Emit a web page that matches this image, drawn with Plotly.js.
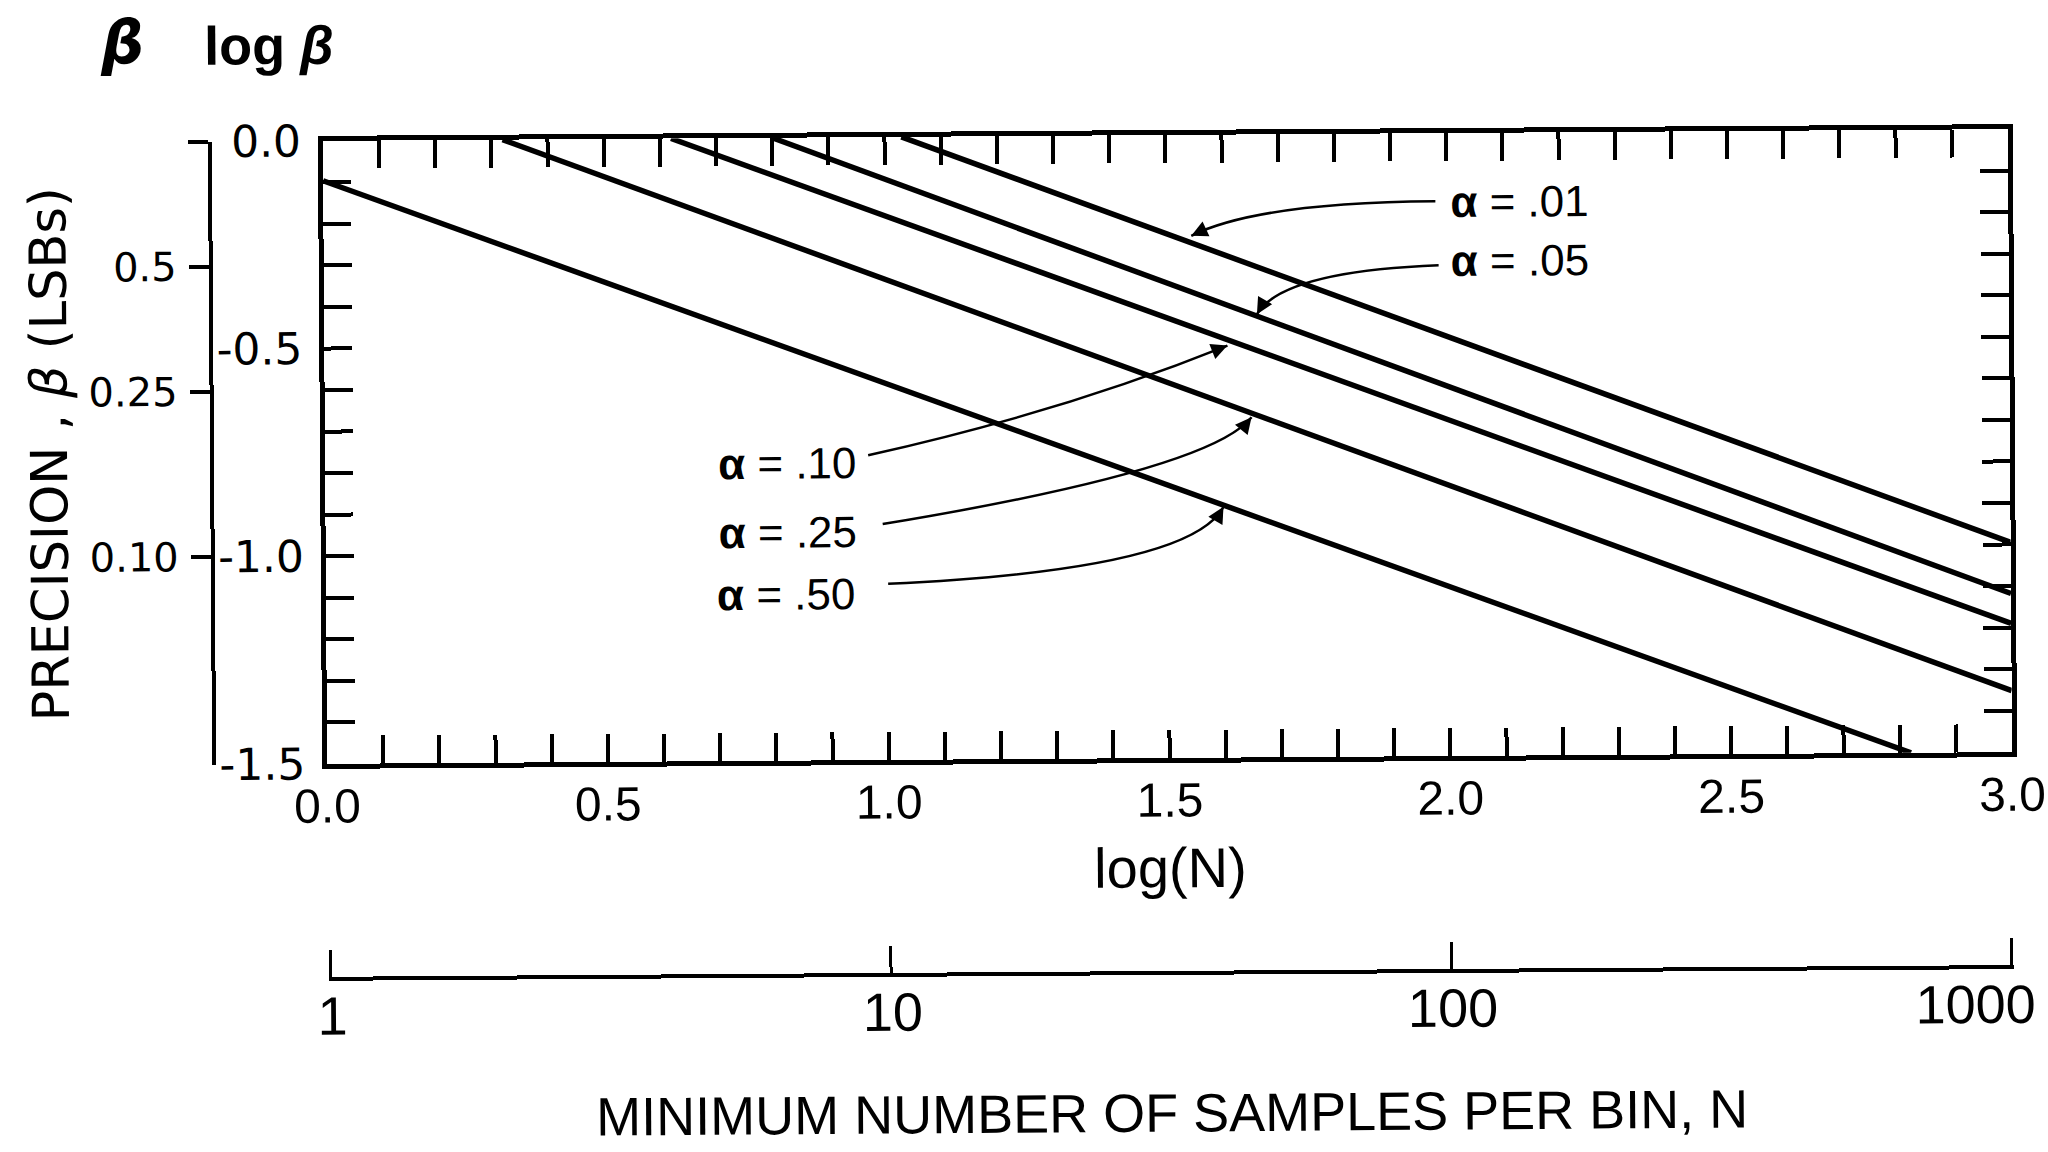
<!DOCTYPE html>
<html>
<head>
<meta charset="utf-8">
<script src="https://cdn.plot.ly/plotly-3.0.1.min.js"></script>
<style>
html,body{margin:0;padding:0;background:#fff;overflow:hidden;}
/* the scanned original sits very slightly rotated on the page */
#chart{width:2048px;height:1152px;transform:rotate(-0.4deg);transform-origin:1167px 450px;}
</style>
</head>
<body>
<div id="chart"></div>
<script>
// ---- data: log(N) (x) vs log(beta) (y) ----
const seriesNames = ['α = .01', 'α = .05', 'α = .10', 'α = .25', 'α = .50'];
const logN_a01 = [1.03, 3.0];
const logB_a01 = [0.0, -0.995];
const logN_a05 = [0.80, 3.0];
const logB_a05 = [0.0, -1.118];
const logN_a10 = [0.62, 3.0];
const logB_a10 = [0.0, -1.19];
const logN_a25 = [0.32, 3.0];
const logB_a25 = [0.0, -1.352];
const logN_a50 = [0.0, 2.82];
const logB_a50 = [-0.096, -1.5];

// ---- tick labels ----
const xTickVals = [0, 0.5, 1, 1.5, 2, 2.5, 3];
const xTickText = ['0.0', '0.5', '1.0', '1.5', '2.0', '2.5', '3.0'];
const yTickVals = [0, -0.5, -1, -1.5];
const yTickText = ['0.0', '-0.5', '-1.0', '-1.5'];
const betaTickVals = [1, 0.5, 0.25, 0.10, 0.0316];
const betaTickText = ['', '0.5', '0.25', '0.10', ''];
const nTickVals = [1, 10, 100, 1000];
const nTickText = ['1', '10', '100', '1000'];
// the original pulls only its last N label inwards; the others are re-centred on their ticks
const nLabelPad = '\u2007\u2007\u00a0';
const nTickTextPlaced = nTickText.map((t, i) => i < nTickText.length - 1 ? nLabelPad + t : t);

// ---- label placement (log N, log beta) and curved leaders ----
const labelPos = [[2.003, -0.164], [2.003, -0.306], [0.696, -0.783], [0.696, -0.951], [0.693, -1.098]];
const leaderStart = [[1.980, -0.164], [1.985, -0.318], [0.967, -0.766], [0.992, -0.932], [1.001, -1.076]];
const leaderCtrl  = [[1.665, -0.164], [1.706, -0.330], [1.309, -0.667], [1.576, -0.807], [1.540, -1.047]];
const leaderTip   = [[1.545, -0.243], [1.661, -0.433], [1.608, -0.508], [1.650, -0.681], [1.599, -0.896]];
const headDir     = [[13, -6], [7, -12], [-13, 5], [-9, 11], [-7, 12]];

const xs = [logN_a01, logN_a05, logN_a10, logN_a25, logN_a50];
const ys = [logB_a01, logB_a05, logB_a10, logB_a25, logB_a50];

const traces = seriesNames.map((n, i) => ({
  type: 'scatter', mode: 'lines', name: n,
  x: xs[i], y: ys[i], xaxis: 'x', yaxis: 'y',
  line: {color: '#000', width: 5.5}, hoverinfo: 'skip', showlegend: false
}));
// carrier traces so the secondary scales are drawn
traces.push({type: 'scatter', mode: 'markers', x: [0, 3], y: [1, 0.0316], xaxis: 'x', yaxis: 'y2',
  marker: {opacity: 0}, hoverinfo: 'skip', showlegend: false});
traces.push({type: 'scatter', mode: 'markers', x: [1, 1000], y: [-1.5, -1.5], xaxis: 'x2', yaxis: 'y',
  marker: {opacity: 0}, hoverinfo: 'skip', showlegend: false});

const shapes = leaderStart.map((p, i) => ({
  type: 'path', xref: 'x', yref: 'y',
  path: 'M ' + p[0] + ',' + p[1] + ' Q ' + leaderCtrl[i][0] + ',' + leaderCtrl[i][1] + ' ' + leaderTip[i][0] + ',' + leaderTip[i][1],
  line: {color: '#000', width: 2.5}
}));

const annotations = [];
seriesNames.forEach((n, i) => {
  annotations.push({
    xref: 'x', yref: 'y', x: labelPos[i][0], y: labelPos[i][1],
    text: '<b>α</b> = .' + n.split('.')[1], showarrow: false,
    xanchor: 'left', yanchor: 'middle',
    font: {family: 'Liberation Sans, sans-serif', size: 44, color: '#000'}
  });
  annotations.push({
    xref: 'x', yref: 'y', x: leaderTip[i][0], y: leaderTip[i][1],
    ax: headDir[i][0], ay: headDir[i][1], text: '', showarrow: true,
    arrowhead: 2, arrowsize: 1.3, arrowwidth: 2.5, arrowcolor: '#000', standoff: 0
  });
});
annotations.push({xref: 'paper', yref: 'paper', x: 0.0131, y: 1.1067, text: '<b><i>β</i></b>', showarrow: false,
  xanchor: 'center', yanchor: 'middle', font: {family: 'DejaVu Sans, sans-serif', size: 60, color: '#000'}});
annotations.push({xref: 'paper', yref: 'paper', x: 0.0895, y: 1.1025, text: '<b>log <i>β</i></b>', showarrow: false,
  xanchor: 'center', yanchor: 'middle', font: {family: 'Liberation Sans, sans-serif', size: 54, color: '#000'}});

const layout = {
  width: 2048, height: 1152,
  margin: {l: 100, r: 30, t: 135, b: 80},
  paper_bgcolor: '#fff', plot_bgcolor: '#fff',
  showlegend: false,
  font: {family: 'DejaVu Sans, sans-serif', color: '#000', size: 40},
  xaxis: {
    domain: [0.11731, 0.99583], range: [0, 3], tickvals: xTickVals, ticktext: xTickText,
    ticks: 'inside', ticklen: 28, tickwidth: 4, tickcolor: '#000',
    showline: true, linewidth: 5, linecolor: '#000', mirror: 'allticks',
    showgrid: false, zeroline: false,
    minor: {dtick: 0.1, tick0: 0, ticks: 'inside', ticklen: 17, tickwidth: 4, tickcolor: '#000', showgrid: false},
    tickfont: {family: 'Liberation Sans, sans-serif', size: 48, color: '#000'},
    ticklabelstandoff: -4,
    title: {text: 'log(N)', font: {family: 'Liberation Sans, sans-serif', size: 56, color: '#000'}, standoff: 24},
    fixedrange: true
  },
  yaxis: {
    domain: [0.3351, 1], range: [-1.5, 0], tickvals: yTickVals, ticktext: yTickText,
    ticks: 'inside', ticklen: 28, tickwidth: 4, tickcolor: '#000',
    showline: true, linewidth: 5, linecolor: '#000', mirror: 'allticks',
    showgrid: false, zeroline: false,
    minor: {dtick: 0.1, tick0: 0, ticks: 'inside', ticklen: 17, tickwidth: 4, tickcolor: '#000', showgrid: false},
    tickfont: {family: 'DejaVu Sans, sans-serif', size: 44, color: '#000'},
    ticklabelstandoff: 8, fixedrange: true
  },
  yaxis2: {
    domain: [0.3351, 1], type: 'log', range: [-1.5, 0], overlaying: 'y', anchor: 'free', position: 0.05839, side: 'left',
    tickvals: betaTickVals, ticktext: betaTickText,
    ticks: 'outside', ticklen: 20, tickwidth: 4, tickcolor: '#000',
    showline: true, linewidth: 4, linecolor: '#000', showgrid: false, zeroline: false,
    tickfont: {family: 'DejaVu Sans, sans-serif', size: 40, color: '#000'},
    ticklabelstandoff: 4,
    title: {text: 'PRECISION , <i>β</i> (LSBs)', font: {family: 'DejaVu Sans, sans-serif', size: 51, color: '#000'}, standoff: 4},
    fixedrange: true
  },
  xaxis2: {
    domain: [0.11614, 0.99700], type: 'log', range: [-0.004, 3.004], overlaying: 'x', anchor: 'free', position: 0.1057, side: 'bottom',
    tickvals: nTickVals, ticktext: nTickTextPlaced, ticklabelshift: -36,
    ticks: 'inside', ticklen: 27, tickwidth: 3, tickcolor: '#000',
    showline: true, linewidth: 4, linecolor: '#000', showgrid: false, zeroline: false,
    tickfont: {family: 'Liberation Sans, sans-serif', size: 54, color: '#000'},
    ticklabelstandoff: -11,
    title: {text: 'MINIMUM NUMBER OF SAMPLES PER BIN, N', font: {family: 'Liberation Sans, sans-serif', size: 54, color: '#000'}, standoff: 54},
    fixedrange: true
  },
  shapes: shapes,
  annotations: annotations
};

Plotly.newPlot('chart', traces, layout, {staticPlot: true, displayModeBar: false});
</script>
</body>
</html>
